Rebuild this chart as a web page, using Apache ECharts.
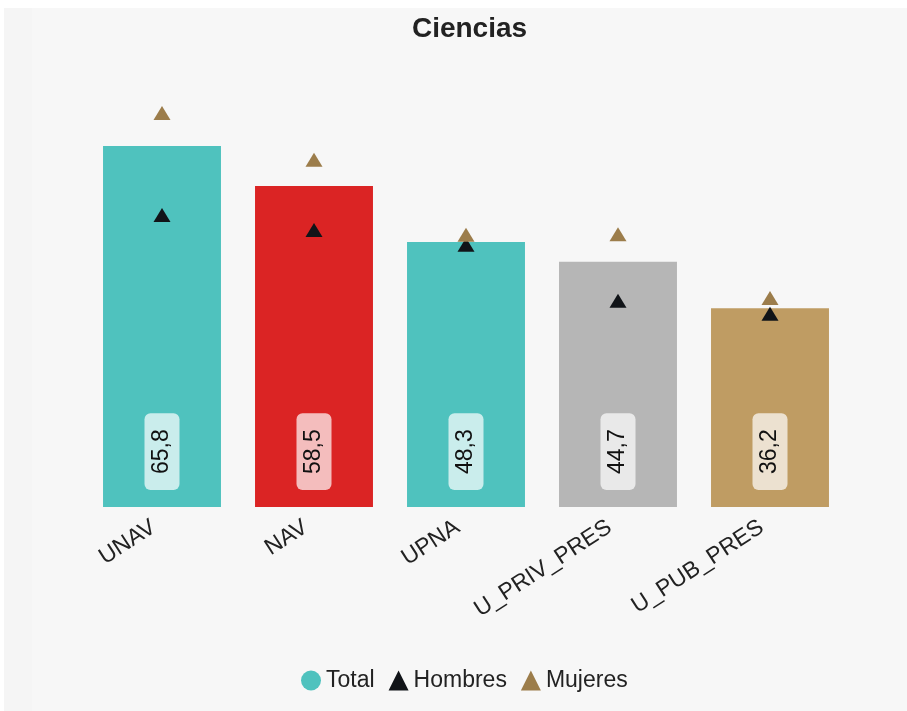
<!DOCTYPE html>
<html><head><meta charset="utf-8">
<script src="https://cdn.jsdelivr.net/npm/echarts@6/dist/echarts.min.js"></script>
<style>
html,body{margin:0;padding:0;background:#fff;width:907px;height:711px;overflow:hidden;}
#strip{position:absolute;left:4px;top:8px;width:28px;height:703px;background:#f5f5f5;}
#c{position:absolute;left:32px;top:8px;width:875px;height:703px;background:#f7f7f7;}
</style></head><body>
<div id="strip"></div>
<div id="c"></div>
<script>
const categories = ['UNAV','NAV','UPNA','U_PRIV_PRES','U_PUB_PRES'];
const totalValues = [65.8, 58.5, 48.3, 44.7, 36.2];
const hombresValues = [53.2, 50.5, 47.8, 37.6, 35.2];
const mujeresValues = [71.8, 63.3, 49.6, 49.7, 38.1];
const barColors = ['#4fc2be','#db2424','#4fc2be','#b6b6b6','#bf9c63'];

const FONT = 'Liberation Sans, Arial, sans-serif';
const chart = echarts.init(document.getElementById('c'), null, {renderer:'canvas'});
chart.setOption({
  backgroundColor: '#f7f7f7',
  animation: false,
  title: {text:'Ciencias', left:'center', top:2, textStyle:{fontFamily:FONT, fontSize:28, fontWeight:'bold', color:'#222'}},
  legend: {
    bottom: 14, left:264, itemGap:14, itemWidth:20, itemHeight:20,
    textStyle:{fontFamily:FONT, fontSize:23, color:'#222'},
    data:[{name:'Total', icon:'circle'},{name:'Hombres', icon:'triangle'},{name:'Mujeres', icon:'triangle'}]
  },
  grid: {left:54, right:61, top:60, bottom:204, containLabel:false},
  xAxis: {
    type:'category', data:categories,
    axisLine:{show:false}, axisTick:{show:false},
    axisLabel:{rotate:33, margin:13, padding:[0,10,0,0], fontFamily:FONT, fontSize:23, color:'#222', interval:0}
  },
  yAxis: {type:'value', min:0, max:80, show:false, splitLine:{show:false}},
  series: [
    {
      name:'Total', type:'bar', barWidth:'77.6%', color:'#4fc2be',
      data: totalValues.map((v,i)=>({value:v, itemStyle:{color:barColors[i]}})),
      label:{
        show:true, position:'insideBottom', distance:17, rotate:90,
        align:'left', verticalAlign:'middle',
        formatter: p => String(p.value).replace('.', ','),
        fontFamily:FONT, fontSize:23, color:'#111',
        backgroundColor:'rgba(255,255,255,0.7)', borderRadius:6, padding:[7,16,5,16]
      },
      z:1
    },
    {
      name:'Hombres', type:'scatter', symbol:'triangle', symbolSize:[17,14], color:'#111418',
      itemStyle:{opacity:1}, data: hombresValues, z:2
    },
    {
      name:'Mujeres', type:'scatter', symbol:'triangle', symbolSize:[17,14], color:'#9c7d4b',
      itemStyle:{opacity:1}, data: mujeresValues, z:3
    }
  ]
});
</script>
</body></html>
